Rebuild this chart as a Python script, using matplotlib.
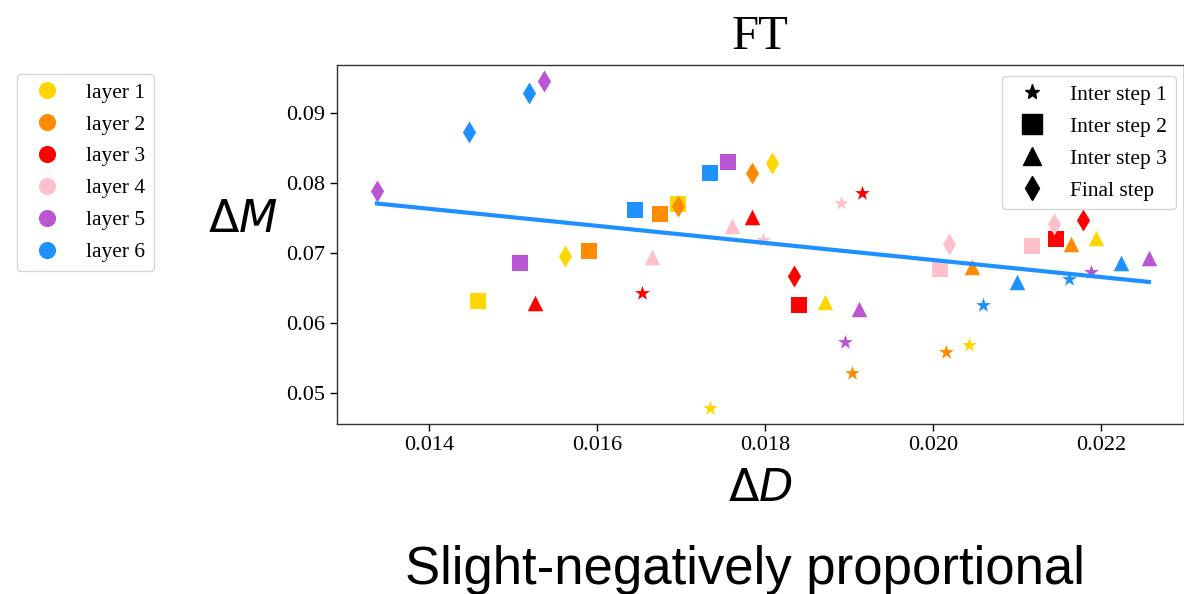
import matplotlib
matplotlib.use('Agg')
import matplotlib.pyplot as plt
from matplotlib.lines import Line2D
import numpy as np

plt.rcParams['font.family'] = ['Liberation Serif', 'DejaVu Serif']
plt.rcParams['mathtext.fontset'] = 'dejavusans'

# 数据: 每层两个点 (ΔD, ΔM)
layers = ['layer 1', 'layer 2', 'layer 3', 'layer 4', 'layer 5', 'layer 6']
colors = ['gold', 'darkorange', 'red', 'pink', 'mediumorchid', 'dodgerblue']
steps = ['Inter step 1', 'Inter step 2', 'Inter step 3', 'Final step']
markers = ['*', 's', '^', 'd']

dD_step1 = [[0.01735, 0.02043], [0.01904, 0.02016], [0.01654, 0.01915],
            [0.01798, 0.01891], [0.01895, 0.02188], [0.02060, 0.02162]]
dM_step1 = [[0.04777, 0.05683], [0.05278, 0.05583], [0.06432, 0.07863],
            [0.07186, 0.07712], [0.05730, 0.06732], [0.06251, 0.06624]]

dD_step2 = [[0.01458, 0.01696], [0.01591, 0.01675], [0.01840, 0.02147],
            [0.02008, 0.02118], [0.01508, 0.01756], [0.01645, 0.01734]]
dM_step2 = [[0.06317, 0.07702], [0.07029, 0.07554], [0.06251, 0.07196],
            [0.06771, 0.07105], [0.06861, 0.08307], [0.07616, 0.08150]]

dD_step3 = [[0.01871, 0.02194], [0.02047, 0.02164], [0.01526, 0.01785],
            [0.01666, 0.01761], [0.01912, 0.02257], [0.02100, 0.02224]]
dM_step3 = [[0.06303, 0.07210], [0.06795, 0.07129], [0.06280, 0.07520],
            [0.06947, 0.07391], [0.06194, 0.06924], [0.06589, 0.06861]]

dD_final = [[0.01562, 0.01808], [0.01696, 0.01785], [0.01834, 0.02178],
            [0.02019, 0.02144], [0.01338, 0.01537], [0.01448, 0.01519]]
dM_final = [[0.06961, 0.08284], [0.07673, 0.08141], [0.06671, 0.07472],
            [0.07125, 0.07415], [0.07892, 0.09462], [0.08728, 0.09295]]

all_dD = [dD_step1, dD_step2, dD_step3, dD_final]
all_dM = [dM_step1, dM_step2, dM_step3, dM_final]

fig = plt.figure(figsize=(11.84, 5.94), dpi=100)
ax = fig.add_axes([337.3 / 1184, 1 - 424.3 / 594, 846.2 / 1184, 359.3 / 594])

for s in range(len(steps)):
    for i in range(len(layers)):
        ax.scatter(all_dD[s][i], all_dM[s][i], marker=markers[s], color=colors[i],
                   s=125, linewidths=0)

# 线性拟合
x_all = np.array(all_dD).ravel()
y_all = np.array(all_dM).ravel()
k, b = np.polyfit(x_all, y_all, 1)
xs = np.array([x_all.min(), x_all.max()])
ax.plot(xs, k * xs + b, color='dodgerblue', lw=3)

ax.set_xlim(0.012908, 0.022982)
ax.set_ylim(0.04548, 0.09691)
ax.set_xticks([0.014, 0.016, 0.018, 0.020, 0.022])
ax.set_yticks([0.05, 0.06, 0.07, 0.08, 0.09])
ax.tick_params(labelsize=16, length=5, width=1)
for sp in ax.spines.values():
    sp.set_linewidth(1.0)
    sp.set_color('#333333')

ax.set_title('FT', fontsize=35, pad=11.5)
ax.set_xlabel(r'$\Delta D$', fontsize=32, labelpad=10.5)
ax.set_ylabel(r'$\Delta M$', fontsize=32, rotation=0, ha='right', va='center')
ax.yaxis.set_label_coords(-0.071, 0.565)

# 图例
step_handles = [Line2D([], [], ls='', marker='*', color='k', ms=11),
                Line2D([], [], ls='', marker='s', color='k', ms=14),
                Line2D([], [], ls='', marker='^', color='k', ms=13),
                Line2D([], [], ls='', marker='d', color='k', ms=12.5)]
ax.legend(step_handles, steps, loc='upper right', bbox_to_anchor=(0.991, 0.969),
          borderaxespad=0, fontsize=15.5, labelspacing=0.55)

layer_handles = [Line2D([], [], ls='', marker='o', color=c, ms=11.3) for c in colors]
fig.legend(layer_handles, layers, loc='upper left', bbox_to_anchor=(17 / 1184, 1 - 74 / 594),
           borderaxespad=0, fontsize=15.5, labelspacing=0.55)

fig.text(745 / 1184, 0.040, 'Slight-negatively proportional',
         fontsize=38, family='Liberation Sans', ha='center', va='center')

fig.savefig('out.png', dpi=100)
